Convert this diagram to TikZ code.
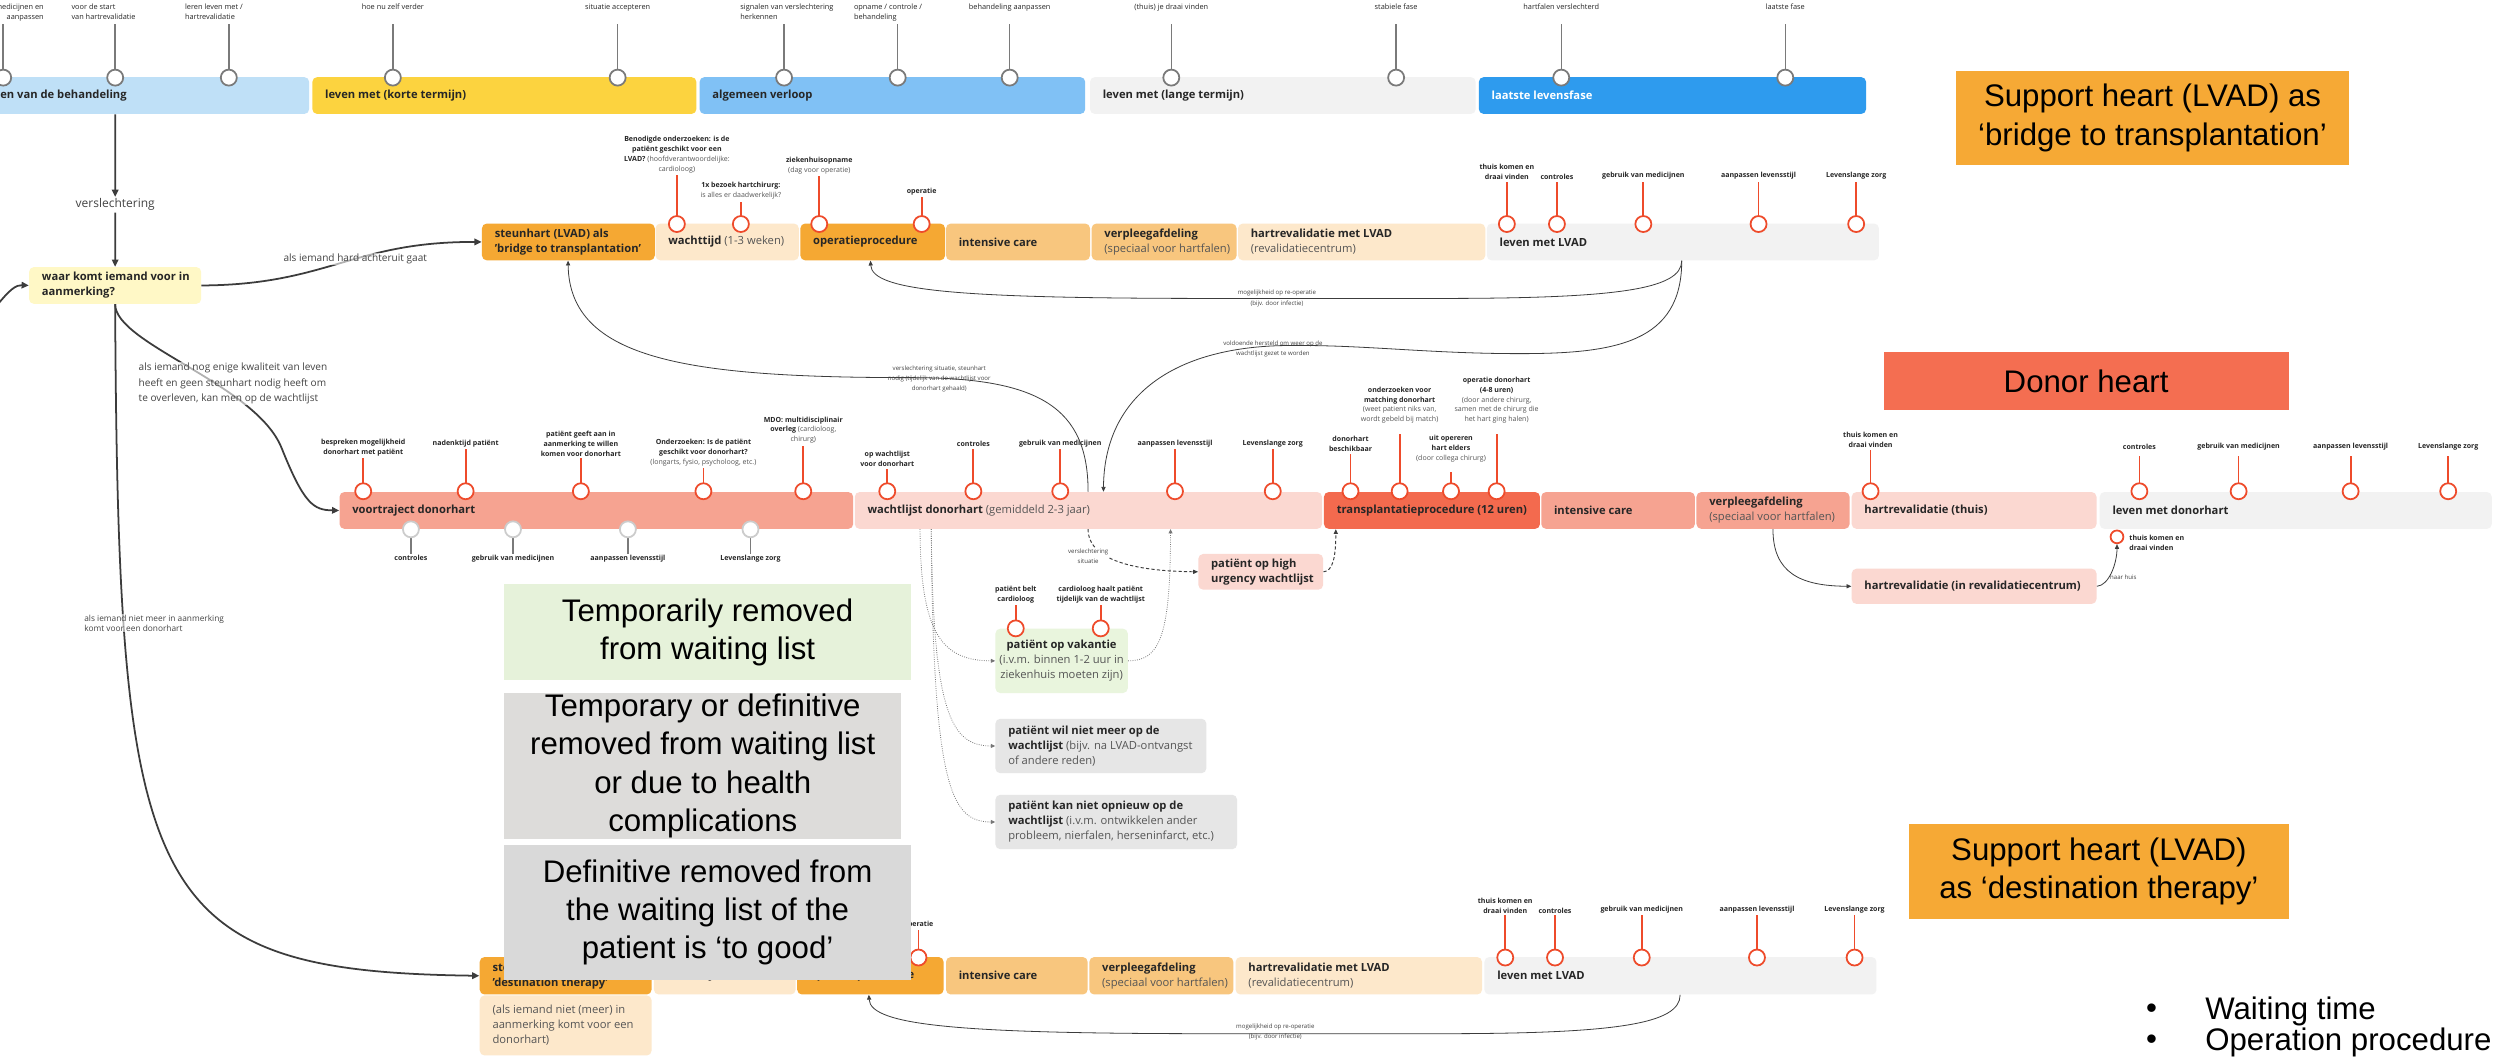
\documentclass[tikz,border=0pt]{standalone}
\usepackage{fontspec}
\setmainfont{Open Sans}
\newfontfamily\arial{Liberation Sans}
\usetikzlibrary{arrows.meta}

% kleuren
\definecolor{donker}{HTML}{262626}
\definecolor{grijstekst}{HTML}{555555}
\definecolor{tekstgrijs}{HTML}{444444}
\definecolor{lijn}{HTML}{3C3C3C}
\definecolor{rood}{HTML}{EE4B2B}
\definecolor{paalgrijs}{HTML}{7A7A7A}
\definecolor{rondgrijs}{HTML}{CCCCCC}
\definecolor{lichtblauw}{HTML}{BFE0F7}
\definecolor{geel}{HTML}{FCD33F}
\definecolor{blauw}{HTML}{80C1F5}
\definecolor{lichtgrijs}{HTML}{F2F2F2}
\definecolor{felblauw}{HTML}{2E9BEE}
\definecolor{oranje}{HTML}{F5A833}
\definecolor{perzik}{HTML}{FDE8CB}
\definecolor{lichtoranje}{HTML}{F8C67E}
\definecolor{zalm}{HTML}{F6A391}
\definecolor{roze}{HTML}{FBD8D1}
\definecolor{transrood}{HTML}{F36A4E}
\definecolor{lichtgeel}{HTML}{FFF8C6}
\definecolor{lichtgroen}{HTML}{E9F5DD}
\definecolor{vakgrijs}{HTML}{E6E6E6}
\definecolor{kaderoranje}{HTML}{F6A935}
\definecolor{kaderrood}{HTML}{F46E51}
\definecolor{kadergroen}{HTML}{E6F2DA}
\definecolor{kadergrijs}{HTML}{DDDCDA}
\definecolor{kadergrijs2}{HTML}{D9D9D9}

% lettergroottes
\newcommand{\topfont}{\fontsize{4.6}{6.25}\selectfont}
\newcommand{\minifont}{\fontsize{4.4}{6.2}\selectfont\bfseries}
\newcommand{\piepfont}{\fontsize{3.8}{6.3}\selectfont}
\newcommand{\boxfont}{\fontsize{7}{9.4}\selectfont\bfseries}
\newcommand{\pijlfont}{\fontsize{6.3}{9.8}\selectfont}
\newcommand{\kleinpijlfont}{\fontsize{5.2}{6.4}\selectfont}
\newcommand{\versfont}{\fontsize{7.5}{9}\selectfont}
\newcommand{\grootfont}{\arial\fontsize{19.5}{24}\selectfont}
\newcommand{\licht}[1]{{\mdseries\color{grijstekst}#1}}

% blok: naam, x, y, breedte, hoogte, kleur, tekst
\newcommand{\blok}[7]{%
  \node[blok, fill=#6, minimum width=#4pt, minimum height=#5pt] (#1) at (#2,#3) {};
  \node[bloktekst] (#1-t) at ([xshift=8pt]#1.west) {#7};}

\tikzset{
  blok/.style={rounded corners=3pt, anchor=north west, inner sep=0pt},
  bloktekst/.style={anchor=west, align=left, inner sep=0pt, font=\boxfont, text=donker},
  rondje/.style={circle, draw=rood, fill=white, line width=1.1pt, minimum size=10pt, inner sep=0pt},
  grijsrondje/.style={rondje, draw=paalgrijs},
  lichtrondje/.style={rondje, draw=rondgrijs},
  paal/.style={draw=rood, line width=1.1pt},
  grijspaal/.style={draw=paalgrijs, line width=0.9pt},
  toplabel/.style={font=\topfont, text=donker, inner sep=0.5pt, align=center},
  minilabel/.style={font=\minifont, text=donker, inner sep=0.6pt, align=center, anchor=south},
  piep/.style={font=\piepfont, text=tekstgrijs, inner sep=0.5pt, align=center},
  pijllabel/.style={font=\pijlfont, text=tekstgrijs, fill=white, fill opacity=0.6, text opacity=1, inner sep=0.5pt},
  kader/.style={anchor=north west, inner sep=0pt, align=center, font=\grootfont, text=black},
  dik/.style={draw=lijn, line width=1.1pt, -{Triangle[length=4.5pt,width=4pt]}},
  dun/.style={draw=lijn, line width=0.5pt, -{Triangle[length=3pt,width=2.6pt]}},
  streep/.style={draw=lijn, line width=0.6pt, dash pattern=on 2pt off 1.4pt, -{Triangle[length=3pt,width=2.6pt]}},
  stip/.style={draw=lijn!70, line width=0.5pt, dash pattern=on 0.5pt off 0.9pt, -{Triangle[length=2.6pt,width=2.4pt]}}
}

\begin{document}
\begin{tikzpicture}[x=1pt,y=-1pt]
\useasboundingbox (0,0) rectangle (1568,662);
\fill[white] (0,0) rectangle (1568,662);

% bovenste tijdlijn
\blok{beh}{-8}{48}{201}{23}{lichtblauw}{en van de behandeling}
\blok{kort}{195}{48}{240}{23}{geel}{leven met (korte termijn)}
\blok{alg}{437}{48}{241}{23}{blauw}{algemeen verloop}
\blok{lang}{681}{48}{241}{23}{lichtgrijs}{leven met (lange termijn)}
\blok{laatst}{924}{48}{242}{23}{felblauw}{\color{white}laatste levensfase}

\draw[grijspaal] (2,48.5) -- (2,15);
\node[grijsrondje] (tr0) at (2,48.5) {};
\node[toplabel, anchor=north east, align=right] (tl0) at (28,1.8) {medicijnen en\\aanpassen};
\foreach \x/\tekst [count=\i] in {72/{voor de start\\van hartrevalidatie}, 143/{leren leven met /\\hartrevalidatie},
    490/{signalen van verslechtering\\herkennen}, 561/{opname / controle /\\behandeling}}
{
  \draw[grijspaal] (\x,48.5) -- (\x,15);
  \node[grijsrondje] (tra\i) at (\x,48.5) {};
  \node[toplabel, anchor=north west, align=left] (tla\i) at (\x-28,1.8) {\tekst};
}
\foreach \x/\tekst [count=\i] in {245.5/{hoe nu zelf verder}, 386/{situatie accepteren}, 631/{behandeling aanpassen},
    732/{(thuis) je draai vinden}, 872.5/{stabiele fase}, 975.7/{hartfalen verslechterd}, 1115.7/{laatste fase}}
{
  \draw[grijspaal] (\x,48.5) -- (\x,15);
  \node[grijsrondje] (trb\i) at (\x,48.5) {};
  \node[toplabel, anchor=north] (tlb\i) at (\x,1.8) {\tekst};
}

% keuze
\node[font=\versfont, text=tekstgrijs, inner sep=1pt] (vers) at (72,128) {verslechtering};
\blok{waar}{18}{166.7}{107.5}{23}{lichtgeel}{waar komt iemand voor in\\aanmerking?}
\draw[dik] (beh.south -| waar.north) -- (vers.north);
\draw[dik] (vers.south) -- (waar.north);
\coordinate (inkomend) at (-2,191);
\draw[dik] (inkomend) .. controls (6,181) and (10,178) .. (waar.west);

% LVAD als bridge to transplantation
\blok{brug}{301}{139.5}{108}{23}{oranje}{steunhart (LVAD) als\\'bridge to transplantation'}
\blok{wacht}{409.5}{139.5}{89.5}{23}{perzik}{wachttijd \licht{(1-3 weken)}}
\blok{oper}{500}{139.5}{90.4}{23}{oranje}{operatieprocedure}
\blok{ic}{591}{139.5}{90}{23}{lichtoranje}{intensive care}
\blok{verp}{682}{139.5}{90.6}{23}{lichtoranje}{verpleegafdeling\\\licht{(speciaal voor hartfalen)}}
\blok{hrev}{773.5}{139.5}{154.5}{23}{perzik}{hartrevalidatie met LVAD\\\licht{(revalidatiecentrum)}}
\blok{leven}{929}{139.5}{245}{23}{lichtgrijs}{leven met LVAD}

\foreach \x/\lt/\yt/\tekst [count=\i] in {
    423/109.4/109/{Benodigde onderzoeken: is de\\patiënt geschikt voor een\\LVAD? \licht{(hoofdverantwoordelijke:}\\\licht{cardioloog)}},
    463/126/125.5/{1x bezoek hartchirurg:\\\licht{is alles er daadwerkelijk?}},
    512/110/109.5/{ziekenhuisopname\\\licht{(dag voor operatie)}},
    576/123/122.5/{operatie},
    941.7/113.5/113/{thuis komen en\\draai vinden},
    973/113.5/113/{controles},
    1027/113.5/113/{gebruik van medicijnen},
    1099/113.5/113/{aanpassen levensstijl},
    1160/113.5/113/{Levenslange zorg}}
{
  \draw[paal] (\x,140) -- (\x,\lt);
  \node[rondje] (bm\i) at (\x,140) {};
  \node[minilabel] (bl\i) at (\x,\yt) {\tekst};
}

\draw[dik] (waar.east) .. controls (205,178) and (220,151) .. (brug.west);
\node[pijllabel] (hardlbl) at (222,162) {als iemand hard achteruit gaat};

\draw[dun] (leven.south -| 1051,0) .. controls (1051,181) and (1010,186.5) .. (900,186.5)
  -- (760,186.5) .. controls (600,186.5) and (545,182) .. (oper.south -| 544,0);
\node[piep] (reoplbl) at (798,186.5) {mogelijkheid op re-operatie\\(bijv. door infectie)};

% donorhart
\blok{voor}{212}{307.3}{321}{23}{zalm}{voortraject donorhart}
\blok{wl}{534}{307.3}{292}{23}{roze}{wachtlijst donorhart \licht{(gemiddeld 2-3 jaar)}}
\blok{trans}{827.2}{307.3}{135}{23}{transrood}{transplantatieprocedure (12 uren)}
\blok{ic2}{963}{307.3}{96}{23}{zalm}{intensive care}
\blok{verp2}{1060}{307.3}{95.7}{23}{zalm}{verpleegafdeling\\\licht{(speciaal voor hartfalen)}}
\blok{thuis}{1157}{307.3}{153}{23}{roze}{hartrevalidatie (thuis)}
\blok{leven2}{1312}{307.3}{245}{23}{lichtgrijs}{leven met donorhart}
\blok{rc}{1157}{355.2}{153}{22}{roze}{hartrevalidatie (in revalidatiecentrum)}
\blok{urg}{748.7}{346}{78}{22.3}{roze}{patiënt op high\\urgency wachtlijst}

\foreach \x/\lt/\yt/\tekst [count=\i] in {
    227/286.5/286/{bespreken mogelijkheid\\donorhart met patiënt},
    291/280.5/280/{nadenktijd patiënt},
    363/286.5/286/{patiënt geeft aan in\\aanmerking te willen\\komen voor donorhart},
    439.6/292.5/292/{Onderzoeken: Is de patiënt\\geschikt voor donorhart?\\\licht{(longarts, fysio, psycholoog, etc.)}},
    502/278.5/278/{MDO: multidisciplinair\\overleg \licht{(cardioloog,}\\\licht{chirurg)}},
    554.5/293/292.5/{op wachtlijst\\voor donorhart},
    608.3/280.5/280/{controles},
    662.6/280.5/280/{gebruik van medicijnen},
    734.3/280.5/280/{aanpassen levensstijl},
    795.4/280.5/280/{Levenslange zorg},
    844/283.5/283/{donorhart\\beschikbaar},
    874.7/271/265.5/{onderzoeken voor\\matching donorhart\\\licht{(weet patient niks van,}\\\licht{wordt gebeld bij match)}},
    906.8/295/289.5/{uit opereren\\hart elders\\\licht{(door collega chirurg)}},
    935.3/271/265.5/{operatie donorhart\\(4-8 uren)\\\licht{(door andere chirurg,}\\\licht{samen met de chirurg die}\\\licht{het hart ging halen)}},
    1169/281/280.5/{thuis komen en\\draai vinden},
    1337/285/282/{controles},
    1399/285/282/{gebruik van medicijnen},
    1469/285/282/{aanpassen levensstijl},
    1530/285/282/{Levenslange zorg}}
{
  \draw[paal] (\x,307) -- (\x,\lt);
  \node[rondje] (dm\i) at (\x,307) {};
  \node[minilabel] (dl\i) at (\x,\yt) {\tekst};
}
\foreach \x/\tekst [count=\i] in {256.8/{controles}, 320.6/{gebruik van medicijnen}, 392.4/{aanpassen levensstijl}, 469/{Levenslange zorg}}
{
  \draw[grijspaal] (\x,330.8) -- (\x,346);
  \node[lichtrondje] (gm\i) at (\x,330.8) {};
  \node[minilabel, anchor=north] (gl\i) at (\x,346.3) {\tekst};
}
\node[rondje, minimum size=8pt] (thuisr) at (1323,335.5) {};
\node[minilabel, anchor=west, align=left] (thuisl) at (1330,339) {thuis komen en\\draai vinden};

\draw[dik] (waar.south) .. controls (72,215) and (160,240) .. (176,280)
  .. controls (190,315) and (196,318.8) .. (voor.west);
\node[pijllabel, anchor=north west, align=left] (kwallbl) at (86,226) {als iemand nog enige kwaliteit van leven\\heeft en geen steunhart nodig heeft om\\te overleven, kan men op de wachtlijst};

\draw[dun] (leven.south -| 1051,0) .. controls (1051,214) and (1010,221) .. (950,221)
  .. controls (890,221) and (850,215) .. (800,216) .. controls (730,218) and (690,250) .. (wl.north -| 689.6,0);
\node[piep] (herstellbl) at (795.5,218.3) {voldoende hersteld om weer op de\\wachtlijst gezet te worden};

\draw[dun] (wl.north -| 680,0) .. controls (680,255) and (650,236) .. (570,236)
  .. controls (430,236) and (356,225) .. (brug.south -| 355,0);
\node[piep] (steunlbl) at (587,236.9) {verslechtering situatie, steunhart\\nodig (tijdelijk van de wachtlijst voor\\donorhart gehaald)};

\draw[streep] (wl.south -| 680,0) .. controls (680,352) and (715,357) .. (urg.west);
\node[piep, fill=white] (verslbl) at (680,347.6) {verslechtering\\situatie};
\draw[streep] (urg.east) .. controls (833,357) and (834.8,348) .. (trans.south -| 834.8,0);

\draw[dun] (verp2.south -| 1108,0) .. controls (1108,358) and (1125,366.2) .. (rc.west);
\draw[dun] (rc.east) .. controls (1318,366) and (1323,352) .. (thuisr.south);
\node[piep] (huislbl) at (1327,361) {naar huis};

% van de wachtlijst af
\node[blok, fill=lichtgroen, minimum width=82.7pt, minimum height=40.2pt] (vak) at (621.9,392.7) {};
\node[bloktekst, anchor=center, align=center] (vak-t) at (vak.center) {patiënt op vakantie\\\licht{(i.v.m. binnen 1-2 uur in}\\\licht{ziekenhuis moeten zijn)}};
\foreach \x/\tekst [count=\i] in {634.8/{patiënt belt\\cardioloog}, 687.9/{cardioloog haalt patiënt\\tijdelijk van de wachtlijst}}
{
  \draw[paal] (\x,392.7) -- (\x,378);
  \node[rondje] (vm\i) at (\x,392.7) {};
  \node[minilabel] (vl\i) at (\x,377.5) {\tekst};
}
\blok{wil}{621.9}{449}{131.8}{34}{vakgrijs}{patiënt wil niet meer op de\\wachtlijst \licht{(bijv. na LVAD-ontvangst}\\\licht{of andere reden)}}
\blok{kan}{621.9}{496.5}{151}{34}{vakgrijs}{patiënt kan niet opnieuw op de\\wachtlijst \licht{(i.v.m. ontwikkelen ander}\\\licht{probleem, nierfalen, herseninfarct, etc.)}}

\draw[stip] (wl.south -| 575,0) .. controls (575,398) and (590,412.8) .. (vak.west);
\draw[stip] (wl.south -| 582,0) .. controls (583,448) and (595,466) .. (wil.west);
\draw[stip] (wl.south -| 582,0) .. controls (583,495) and (595,513.5) .. (kan.west);
\draw[stip] (vak.east) .. controls (724,412.8) and (731.5,400) .. (wl.south -| 731.5,0);

% LVAD als destination therapy
\blok{dest}{299.6}{597.9}{107.4}{23.4}{oranje}{steunhart (LVAD) als\\'destination therapy'}
\node[blok, fill=perzik, minimum width=107.4pt, minimum height=37.5pt] (destnoot) at (299.6,621.9) {};
\node[bloktekst, font=\boxfont\mdseries, text=grijstekst] (destnoot-t) at ([xshift=8pt]destnoot.west) {(als iemand niet (meer) in\\aanmerking komt voor een\\donorhart)};
\blok{wacht3}{408.5}{597.9}{88.5}{23.4}{perzik}{wachttijd \licht{(1-3 weken)}}
\blok{oper3}{498}{597.9}{91.5}{23.4}{oranje}{operatieprocedure}
\blok{ic3}{591}{597.9}{88.5}{23.4}{lichtoranje}{intensive care}
\blok{verp3}{680.6}{597.9}{90}{23.4}{lichtoranje}{verpleegafdeling\\\licht{(speciaal voor hartfalen)}}
\blok{hrev3}{772}{597.9}{154}{23.4}{perzik}{hartrevalidatie met LVAD\\\licht{(revalidatiecentrum)}}
\blok{leven3}{927.5}{597.9}{245}{23.4}{lichtgrijs}{leven met LVAD}

\foreach \x/\lt/\yt/\tekst [count=\i] in {
    574/581.4/581/{operatie},
    940.7/572/571.5/{thuis komen en\\draai vinden},
    971.8/572/571.5/{controles},
    1026/572/571.5/{gebruik van medicijnen},
    1098/572/571.5/{aanpassen levensstijl},
    1159/572/571.5/{Levenslange zorg}}
{
  \draw[paal] (\x,598.4) -- (\x,\lt);
  \node[rondje] (em\i) at (\x,598.4) {};
  \node[minilabel] (el\i) at (\x,\yt) {\tekst};
}

\draw[dik] (waar.south) .. controls (74,560) and (90,607) .. (dest.west);
\node[pijllabel, font=\kleinpijlfont, anchor=north west, align=left] (nietlbl) at (52,383.5) {als iemand niet meer in aanmerking\\komt voor een donorhart};

\draw[dun] (leven3.south -| 1050,0) .. controls (1050,640) and (1010,646) .. (900,646)
  -- (760,646) .. controls (600,646) and (544,641) .. (oper3.south -| 543,0);
\node[piep] (reop3lbl) at (797,644.8) {mogelijkheid op re-operatie\\(bijv. door infectie)};

% kaders rechts
\node[kader, fill=kaderoranje, minimum width=246pt, minimum height=59pt] (brugkader) at (1222,44) {Support heart (LVAD) as\\‘bridge to transplantation’};
\node[kader, fill=kaderrood, minimum width=253pt, minimum height=36pt] (donorkader) at (1177,220) {Donor heart};
\node[kader, fill=kaderoranje, minimum width=237pt, minimum height=59pt] (bestkader) at (1193,515) {Support heart (LVAD)\\as ‘destination therapy’};
\node[font=\grootfont, anchor=west, inner sep=0pt] (bul1) at (1341,632) {•};
\node[font=\grootfont, anchor=west, inner sep=0pt] (wachttijd) at (1378,632) {Waiting time};
\node[font=\grootfont, anchor=west, inner sep=0pt] (bul2) at (1341,651.5) {•};
\node[font=\grootfont, anchor=west, inner sep=0pt] (operatietijd) at (1378,651.5) {Operation procedure};

% kaders over het schema
\node[kader, fill=kadergroen, minimum width=254pt, minimum height=60pt] (ov1) at (315,365) {Temporarily removed\\from waiting list};
\node[kader, fill=kadergrijs, minimum width=248pt, minimum height=91pt] (ov2) at (315,433) {Temporary or definitive\\removed from waiting list\\or due to health\\complications};
\node[kader, fill=kadergrijs2, minimum width=254pt, minimum height=84pt] (ov3) at (315,528) {Definitive removed from\\the waiting list of the\\patient is ‘to good’};
\end{tikzpicture}
\end{document}
